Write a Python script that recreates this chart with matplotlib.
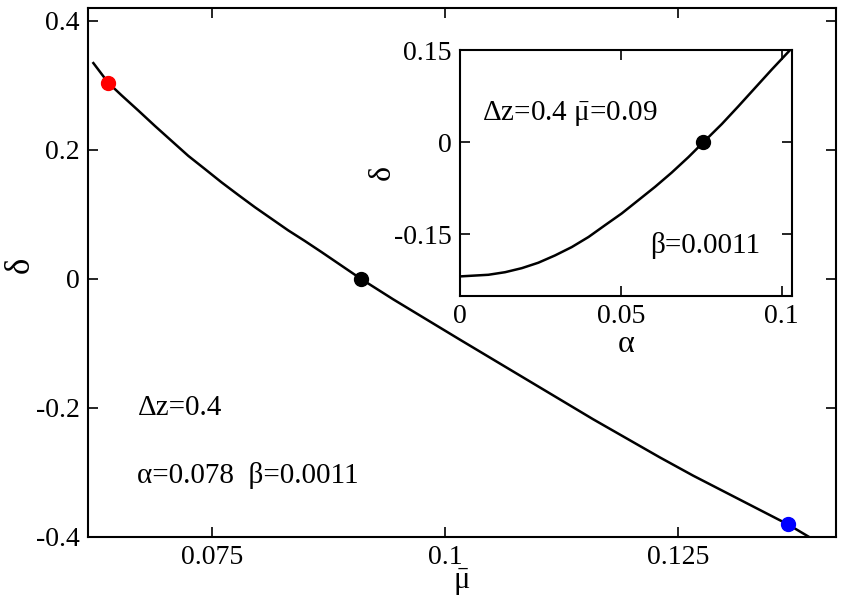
import numpy as np
import matplotlib
matplotlib.use('Agg')
import matplotlib.pyplot as plt

plt.rcParams['font.family'] = ['Liberation Serif', 'DejaVu Serif']
plt.rcParams['mathtext.fontset'] = 'custom'
plt.rcParams['mathtext.rm'] = 'Liberation Serif'
plt.rcParams['mathtext.it'] = 'Liberation Serif:italic'
plt.rcParams['mathtext.default'] = 'rm'

# main curve: delta vs mu-bar
mu_bar = [0.06228, 0.06389, 0.06531, 0.06710, 0.06889, 0.07067, 0.07246,
          0.07425, 0.07603, 0.07782, 0.07961, 0.08139, 0.08318, 0.08497,
          0.08674, 0.08853, 0.09097, 0.09446, 0.10161, 0.10875, 0.11589,
          0.12304, 0.12661, 0.13679, 0.13900]
delta = [0.3346, 0.3038, 0.2845, 0.2610, 0.2370, 0.2139, 0.1907,
         0.1702, 0.1496, 0.1301, 0.1110, 0.0931, 0.0751, 0.0586,
         0.0416, 0.0240, 0.0, -0.0320, -0.0945, -0.1562, -0.2179,
         -0.2770, -0.3053, -0.3810, -0.4]

# marked points
red_pt = (0.06389, 0.3038)
black_pt = (0.09097, 0.0)
blue_pt = (0.13679, -0.3810)

# inset: delta vs alpha
alpha = [0.0006, 0.0089, 0.0141, 0.0193, 0.0244, 0.0296, 0.0348, 0.0400,
         0.0451, 0.0503, 0.0555, 0.0607, 0.0658, 0.0710, 0.0757, 0.0814,
         0.0865, 0.0917, 0.0969, 0.1026]
delta_in = [-0.2184, -0.2159, -0.2117, -0.2051, -0.1963, -0.1844, -0.1708,
            -0.1544, -0.1353, -0.1161, -0.0944, -0.0726, -0.0497, -0.0245,
            0.0, 0.0295, 0.0582, 0.0882, 0.1182, 0.15]
inset_pt = (0.0757, 0.0)

main_xticks = [0.075, 0.1, 0.125]
main_xlabels = ['0.075', '0.1', '0.125']
main_yticks = [0.4, 0.2, 0.0, -0.2, -0.4]
main_ylabels = ['0.4', '0.2', '0', '-0.2', '-0.4']
in_xticks = [0.0, 0.05, 0.1]
in_xlabels = ['0', '0.05', '0.1']
in_yticks = [0.15, 0.0, -0.15]
in_ylabels = ['0.15', '0', '-0.15']

fs = 20   # tick labels
tfs = 21  # annotations


def style_axes(ax):
    for s in ax.spines.values():
        s.set_linewidth(1.5)
    ax.tick_params(direction='in', top=True, right=True, length=7,
                   width=1.2, labelsize=fs, pad=6)


fig = plt.figure(figsize=(8.41, 5.99), dpi=100)
ax = fig.add_axes([0.1046, 0.104, 0.8891, 0.8826])
ax.plot(mu_bar, delta, color='black', lw=1.8)
ax.plot(*red_pt, 'o', color='red', ms=10)
ax.plot(*black_pt, 'o', color='black', ms=10)
ax.plot(*blue_pt, 'o', color='blue', ms=10)
ax.set_xlim(0.0617, 0.1419)
ax.set_ylim(-0.4, 0.42)
ax.set_xticks(main_xticks)
ax.set_xticklabels(main_xlabels)
ax.set_yticks(main_yticks)
ax.set_yticklabels(main_ylabels)
style_axes(ax)
ax.set_xlabel(r'$\bar{\mu}$', fontsize=fs + 2)
ax.xaxis.set_label_coords(0.5, -0.057)
ax.set_ylabel('\u03b4', fontsize=fs + 5)
ax.yaxis.set_label_coords(-0.069, 0.514)
ax.text(0.0670, -0.201, '\u0394z=0.4', fontsize=tfs, va='center')
ax.text(0.0670, -0.305, '\u03b1=0.078  \u03b2=0.0011', fontsize=tfs,
        va='center')

# inset
axi = fig.add_axes([0.5466, 0.5063, 0.3948, 0.4102])
axi.plot(alpha, delta_in, color='black', lw=1.8)
axi.plot(*inset_pt, 'o', color='black', ms=10)
axi.set_xlim(0.0, 0.1031)
axi.set_ylim(-0.25, 0.15)
axi.set_xticks(in_xticks)
axi.set_xticklabels(in_xlabels)
axi.set_yticks(in_yticks)
axi.set_yticklabels(in_ylabels)
style_axes(axi)
axi.set_xlabel('\u03b1', fontsize=fs + 3, labelpad=1)
axi.set_ylabel('\u03b4', fontsize=fs + 3)
axi.yaxis.set_label_coords(-0.19, 0.5)
axi.text(0.0068, 0.047, r'$\Delta$z=0.4 $\bar{\mu}$=0.09', fontsize=tfs,
         va='center')
axi.text(0.0592, -0.168, '\u03b2=0.0011', fontsize=tfs, va='center')

fig.savefig('out.png', dpi=100)
